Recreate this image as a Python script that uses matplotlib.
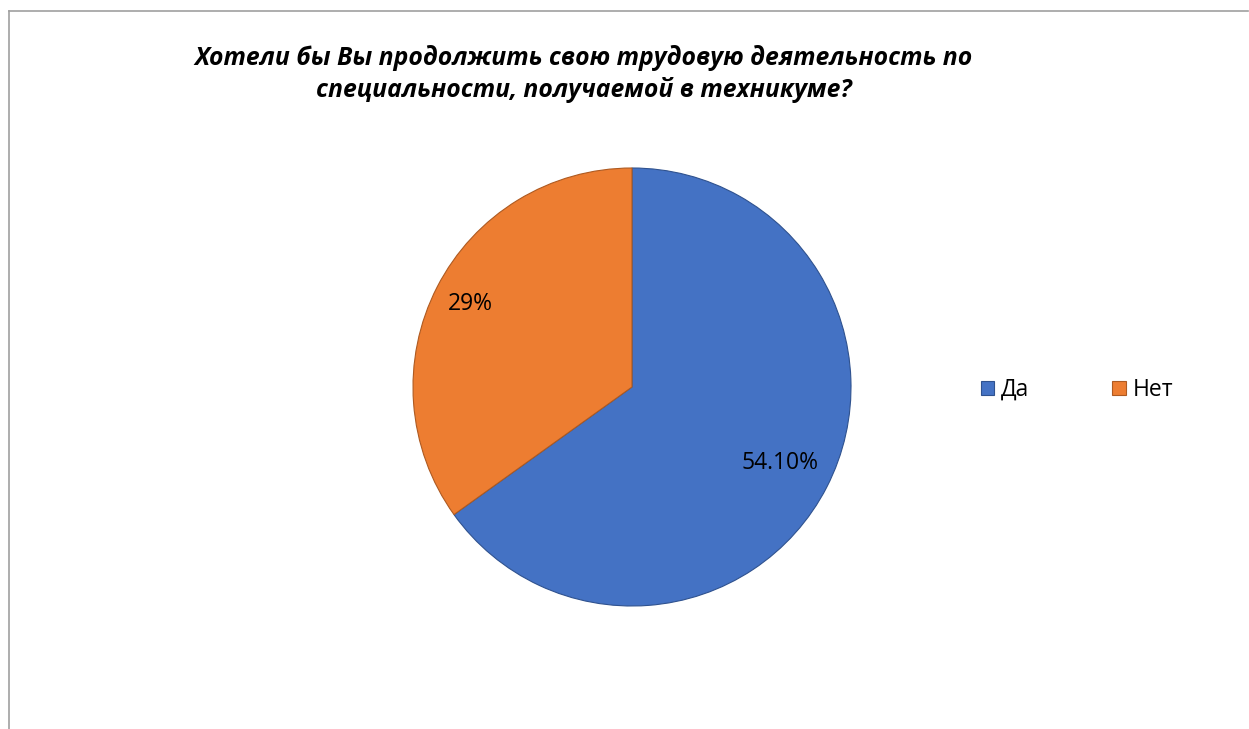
import matplotlib.pyplot as plt
from matplotlib.lines import Line2D
import numpy as np

# data
categories = ['Да', 'Нет']
values = [54.10, 29]
value_labels = ['54.10%', '29%']
colors = ['#4472C4', '#ED7D31']
edge_colors = ['#2F528F', '#AE5A21']
label_dist = [0.76, 0.83]

plt.rcParams['font.family'] = ['Open Sans', 'DejaVu Sans']

W, H = 1249, 729
fig = plt.figure(figsize=(W / 100, H / 100), dpi=100)

# chart frame (top and left edges visible)
fig.add_artist(Line2D([9 / W, 9 / W], [0, 1 - 11 / H], transform=fig.transFigure,
                      color='#a0a0a0', lw=1.2))
fig.add_artist(Line2D([9 / W, 1248 / W], [1 - 11 / H, 1 - 11 / H], transform=fig.transFigure,
                      color='#a0a0a0', lw=1.2))

cx, cy, r = 632, 387, 219
ax = fig.add_axes([(cx - r) / W, (H - cy - r) / H, 2 * r / W, 2 * r / H])
wedges, _ = ax.pie(values, colors=colors, startangle=90, counterclock=False,
                   wedgeprops=dict(linewidth=0.8))
for w, ec in zip(wedges, edge_colors):
    w.set_edgecolor(ec)
ax.set_xlim(-1, 1)
ax.set_ylim(-1, 1)

for w, lab, d in zip(wedges, value_labels, label_dist):
    mid = np.deg2rad((w.theta1 + w.theta2) / 2)
    ax.text(d * np.cos(mid), d * np.sin(mid), lab, ha='center', va='center',
            fontsize=16.5, color='#000000')

fig.text(584 / W, 1 - 74 / H,
         'Хотели бы Вы продолжить свою трудовую деятельность по\nспециальности, получаемой в техникуме?',
         ha='center', va='center', fontsize=17.8, fontweight='bold', fontstyle='italic',
         linespacing=1.3)

fig.legend(wedges, categories, loc='center left', bbox_to_anchor=(960 / W, 1 - 390 / H),
           ncol=2, frameon=False, fontsize=16.5, handlelength=0.6, handleheight=0.6,
           handletextpad=0.3, columnspacing=3.6)

plt.savefig('out.png', dpi=100)
